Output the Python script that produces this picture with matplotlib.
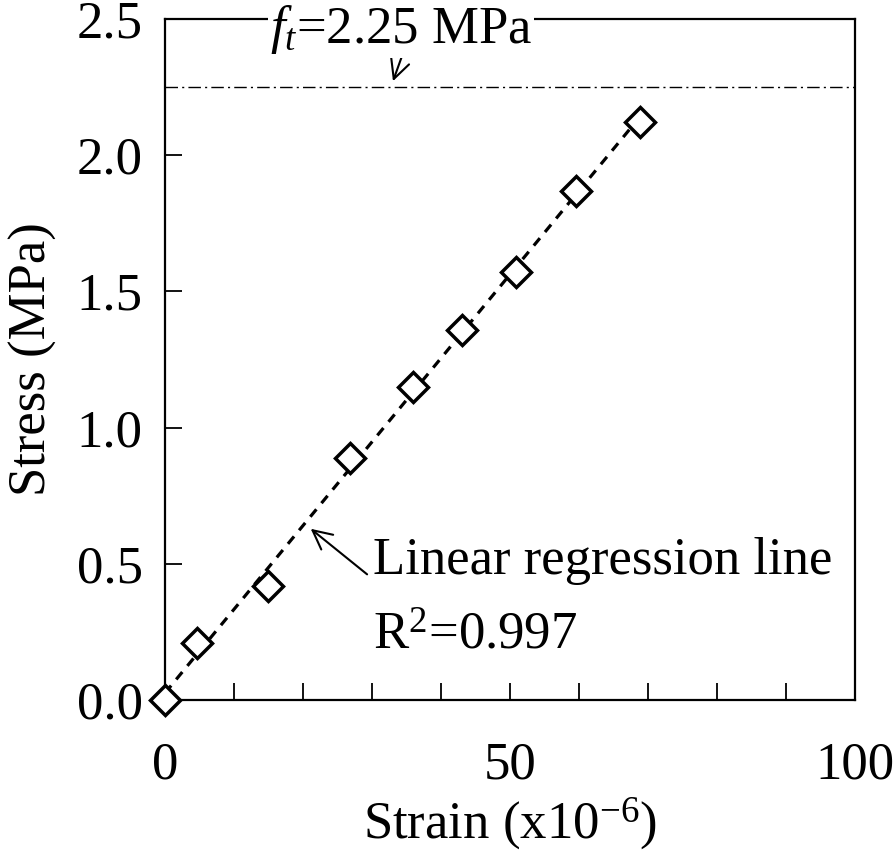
import matplotlib
matplotlib.use('Agg')
import matplotlib.pyplot as plt
import numpy as np

plt.rcParams['font.family'] = ['Liberation Serif', 'DejaVu Serif']
plt.rcParams['mathtext.fontset'] = 'custom'
plt.rcParams['mathtext.rm'] = 'Liberation Serif'
plt.rcParams['mathtext.it'] = 'Liberation Serif:italic'

# 数据
strain = [0.0, 4.6, 14.9, 26.8, 35.9, 43.0, 50.9, 59.6, 68.8]
stress = [0.0, 0.21, 0.42, 0.89, 1.15, 1.36, 1.57, 1.87, 2.12]
ft = 2.25
x_ticks = [0, 50, 100]
y_ticks = [0.0, 0.5, 1.0, 1.5, 2.0, 2.5]

fs = 38

fig = plt.figure(figsize=(8.94, 8.58), dpi=100)
ax = fig.add_axes([0.1846, 0.1841, 0.7718, 0.7938])

# 线性回归
k, b = np.polyfit(strain, stress, 1)
xf = np.array([0, strain[-1]])
ax.plot(xf, k * xf + b, color='black', lw=2.3, dashes=(3.0, 2.5), zorder=2)

ax.plot(strain, stress, linestyle='none', marker='D', ms=15.5,
        mfc='white', mec='black', mew=2.5, zorder=3, clip_on=False)

# 抗拉强度线
ax.axhline(ft, color='black', lw=1.0, dashes=(9, 3, 1.5, 3), zorder=1)

ax.set_xlim(0, 100)
ax.set_ylim(0, 2.5)
ax.set_xticks(x_ticks)
ax.set_xticks(np.arange(0, 101, 10), minor=True)
ax.set_yticks(y_ticks)
ax.set_yticklabels([f'{v:.1f}' for v in y_ticks])

ax.tick_params(axis='both', which='both', direction='in', length=12, width=1.3,
               labelsize=fs, top=False, right=False)
ax.tick_params(axis='x', which='major', pad=30)
ax.tick_params(axis='y', which='major', pad=16)
for s in ax.spines.values():
    s.set_linewidth(1.6)

ax.set_xlabel('Strain (x10$^{-6}$)', fontsize=fs, labelpad=4)
ax.set_ylabel('Stress (MPa)', fontsize=fs, labelpad=14)

# 标注
ax.text(34.2, 2.412, '$f_t$=2.25 MPa', fontsize=fs, ha='center', va='baseline',
        bbox=dict(facecolor='white', edgecolor='none', pad=1.5), zorder=5, clip_on=False)
ax.annotate('', xy=(32.9, ft + 0.012), xytext=(34.5, 2.375),
            arrowprops=dict(arrowstyle='->', color='black', lw=1.5,
                            mutation_scale=34))
ax.annotate('', xy=(20.8, 0.635), xytext=(29.6, 0.455),
            arrowprops=dict(arrowstyle='->', color='black', lw=1.5,
                            mutation_scale=34))
ax.text(30.1, 0.51, 'Linear regression line', fontsize=fs, ha='left', va='center')
ax.text(30.1, 0.235, 'R$^2$=0.997', fontsize=fs, ha='left', va='center')

fig.savefig('out.png', dpi=100)
